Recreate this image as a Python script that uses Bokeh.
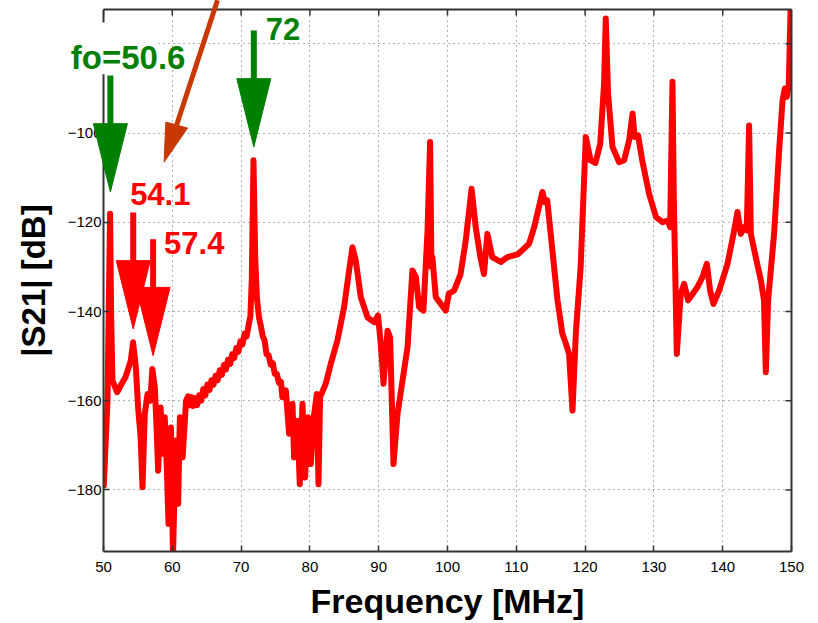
import math
from bokeh.plotting import figure
from bokeh.models import Range1d, FixedTicker
from bokeh.core.properties import value
from bokeh.embed import file_html
from bokeh.resources import INLINE

# ---------------- data ----------------
freq = [50.05, 50.33, 50.58, 50.8, 50.96, 51.1, 51.3, 52.0, 52.5, 53.2, 53.97, 54.3, 54.7,
        55.03, 55.4, 55.67, 56.0, 56.4, 56.8, 57.1, 57.46, 57.75, 57.94, 58.3, 58.6, 58.9,
        59.2, 59.45, 59.8, 60.1, 60.5, 60.85, 61.1, 61.5, 62.0, 62.3, 62.5, 62.8, 63.0,
        63.3, 63.6, 63.9, 64.2, 64.5, 64.8, 65.1, 65.4, 65.7, 66.0, 66.3, 66.6, 66.9, 67.2,
        67.5, 67.8, 68.1, 68.4, 68.7, 69.0, 69.3, 69.6, 69.9, 70.2, 70.5, 70.8, 71.1,
        71.35, 71.55, 71.8, 72.05, 72.3, 72.6, 72.9, 73.15, 73.4, 73.7, 74.0, 74.3, 74.6,
        74.9, 75.2, 75.5, 75.8, 76.0, 76.5, 76.98, 77.47, 77.7, 78.2, 78.53,
        78.92, 79.3, 79.74, 80.13, 80.5, 81.0, 81.25, 81.48, 82.3, 83.04, 84.0, 84.97, 85.7,
        86.19, 86.67, 87.4, 88.37, 89.33, 89.9, 90.3, 90.7, 91.28, 91.66, 92.15, 92.73,
        93.46, 94.19, 94.9, 95.4, 95.87, 96.5, 97.1, 97.47, 97.67, 97.8, 98.3, 99.03, 99.75,
        100.2, 100.96, 101.9, 102.65, 103.5, 104.1, 104.8, 105.3, 105.8, 106.5, 107.75,
        108.7, 110.2, 111.86, 112.6, 113.8, 114.14, 114.5, 115.0, 115.99, 116.7, 117.2,
        117.67, 118.17, 118.65, 119.35, 120.1, 120.8, 121.5, 122.2, 122.76, 123.0, 123.34,
        123.98, 124.94, 125.67, 126.4, 126.9, 127.2, 127.7, 128.3, 129.3, 130.3, 131.25,
        132.0, 132.36, 132.7, 132.9, 133.33, 133.9, 134.4, 134.97, 136.34, 137.06, 137.7,
        138.17, 138.66, 139.48, 140.7, 141.57, 142.15, 142.63, 143.1, 143.5, 143.84, 144.09,
        144.8, 145.55, 146.0, 146.27, 146.6, 147.47, 148.2, 148.7, 149.03, 149.3, 149.6,
        149.9]
s21 = [-179.0, -168.9, -160.0, -135.0, -118.1, -140.0, -155.5, -158.1, -156.6, -154.7,
       -151.0, -146.9, -152.5, -161.5, -168.2, -179.4, -163.0, -158.5, -160.0, -152.9,
       -157.0, -167.4, -175.7, -161.5, -171.9, -163.7, -174.9, -187.6, -166.0, -195.0,
       -168.9, -183.1, -163.7, -172.7, -160.0, -159.0, -161.0, -159.2, -161.2,
       -159.4, -161.0, -158.8, -160.0, -157.4, -158.8, -156.4, -157.6, -155.4, -156.4,
       -154.4, -155.4, -153.2, -154.2, -152.0, -153.0, -150.8, -151.8, -149.6, -150.4,
       -148.2, -149.0, -146.7, -147.4, -145.0, -145.6, -143.0, -141.0, -133.0, -106.1,
       -128.0, -137.0, -141.3, -143.5, -145.6, -146.4, -149.6, -149.8, -151.9, -151.6,
       -154.0, -154.0, -156.0, -155.8, -159.2, -157.7, -167.4, -160.7, -172.7, -164.5,
       -178.7, -160.7, -177.2, -163.7, -174.2, -164.5, -158.5, -178.7, -159.2, -156.2,
       -151.7, -146.5, -139.0, -130.8, -125.6, -128.6, -136.8, -141.3, -142.4, -140.9,
       -147.2, -156.2, -144.3, -145.8, -174.2, -163.0, -155.5, -148.0, -130.8, -132.3,
       -139.0, -139.8, -121.8, -102.0, -130.0, -127.8, -136.8, -138.3, -139.8, -136.0,
       -135.3, -131.6, -124.1, -112.5, -121.1, -128.0, -131.6, -122.6, -127.8, -128.9,
       -127.8, -127.2, -124.8, -121.1, -113.2, -115.5, -115.1, -122.6, -137.5, -145.0,
       -147.2, -149.5, -162.2, -145.0, -130.1, -100.9, -106.1, -106.7, -102.4, -88.9,
       -74.3, -91.2, -103.1, -106.5, -106.1, -101.6, -95.6, -100.9, -100.5, -106.1,
       -113.6, -118.8, -120.0, -119.6, -121.1, -88.5, -115.1, -149.5, -136.0, -133.8,
       -137.5, -134.5, -132.3, -129.3, -135.3, -138.3, -135.3, -129.3, -122.6, -117.7,
       -122.6, -121.1, -121.8, -98.3, -122.6, -127.8, -133.0, -137.5, -153.6, -137.5,
       -122.6, -103.9, -92.7, -90.0, -91.9, -89.3, -70.0]

x_ticks = [50, 60, 70, 80, 90, 100, 110, 120, 130, 140, 150]
y_ticks_left = [-180, -160, -140, -120, -100]
y_ticks_grid = [-180, -160, -140, -120, -100, -80]

# resonance markers (labels and where the arrows point)
fo_label = ["fo=50.6"]
fo_freq = [51.0]
fo_tip = [-113.2]
fo_text_x = [45.25]
fo_text_y = [-83.0]

green_labels = ["72"]
green_freq = [71.85]
green_tip = [-103.1]
green_text_x = [73.6]
green_text_y = [-76.7]

red_labels = ["54.1", "57.4"]
red_freq = [54.32, 57.21]
red_tip = [-143.9, -149.9]
red_text_x = [53.87, 58.81]
red_text_y = [-113.6, -124.6]

# ---------------- styles ----------------
FONT = "Liberation Sans"
RED = "#FF0000"
GREEN = "#008000"
BROWN = "#C83800"
FRAME = "#333333"
HEAD_LEN = 15.3     # dB
HEAD_HALF = 2.47    # MHz
SHAFT_LEN = 10.8    # dB
X0, X1 = 50, 150
Y0, Y1 = -193.8, -72.3

p = figure(width=818, height=623,
           x_range=Range1d(X0, X1), y_range=Range1d(Y0, Y1),
           output_backend="svg", toolbar_location=None,
           min_border_left=103, min_border_right=27, min_border_top=9, min_border_bottom=72,
           x_axis_label="Frequency [MHz]", y_axis_label="|S21| [dB]")
p.background_fill_color = "white"
p.border_fill_color = "white"
p.outline_line_color = None

for ax in (p.xaxis[0], p.yaxis[0]):
    ax.axis_line_color = FRAME
    ax.axis_line_width = 2
    ax.major_tick_in = 6
    ax.major_tick_out = 0
    ax.major_tick_line_color = FRAME
    ax.major_tick_line_width = 1.5
    ax.minor_tick_in = 0
    ax.minor_tick_out = 0
    ax.major_label_text_font = FONT
    ax.major_label_text_font_size = "15px"
    ax.major_label_text_color = "black"
    ax.axis_label_text_font = FONT
    ax.axis_label_text_font_size = "33px"
    ax.axis_label_text_font_style = "bold"
    ax.axis_label_text_color = "black"
p.xaxis[0].axis_label_text_font_size = "34px"

p.xaxis[0].ticker = FixedTicker(ticks=x_ticks)
p.yaxis[0].ticker = FixedTicker(ticks=y_ticks_left)
p.xaxis[0].major_label_standoff = 10
p.xaxis[0].axis_label_standoff = 7
p.yaxis[0].major_label_standoff = 2
p.yaxis[0].axis_label_standoff = 13

p.xgrid[0].ticker = FixedTicker(ticks=x_ticks)
p.ygrid[0].ticker = FixedTicker(ticks=y_ticks_grid)
for g in (p.xgrid[0], p.ygrid[0]):
    g.grid_line_color = "#666666"
    g.grid_line_dash = "1 4"
    g.grid_line_width = 1

# ---------------- curve ----------------
p.line(freq, s21, line_color=RED, line_width=6, line_join="round", line_cap="round")

# inward ticks on the top and right frame edges (outer half is clipped by the frame)
p.scatter(x_ticks, [Y1] * len(x_ticks), marker="dash", angle=math.pi / 2, size=12,
          line_color=FRAME, line_width=1.5)
p.scatter([X1] * len(y_ticks_grid), y_ticks_grid, marker="dash", angle=0, size=12,
          line_color=FRAME, line_width=1.5)

# top and right frame edges (guide level, like the axis lines)
p.segment(x0=[X0, X1], y0=[Y1, Y0], x1=[X1, X1], y1=[Y1, Y1],
          line_color=FRAME, line_width=2, level="guide")

# white box behind the "fo=50.6" label (hides frame line / -80 label there)
p.quad(left=[43.8], right=[57.9], bottom=[-86.8], top=[-75.2],
       fill_color="white", line_color=None, level="overlay")

# ---------------- marker arrows (overlay level: not clipped to the frame) ----------------
def markers(xs, tips, color):
    heads = [t + HEAD_LEN for t in tips]
    p.segment(x0=xs, y0=[h + SHAFT_LEN for h in heads], x1=xs, y1=[h - 1 for h in heads],
              line_color=color, line_width=6, level="overlay")
    p.patches(xs=[[x - HEAD_HALF, x + HEAD_HALF, x] for x in xs],
              ys=[[h, h, t] for h, t in zip(heads, tips)],
              fill_color=color, line_color=color, line_width=1, level="overlay")

def labels(xs, ys, texts, color, size="31px"):
    p.text(x=xs, y=ys, text=texts, text_color=color, text_font=value(FONT),
           text_font_style="bold", text_font_size=size,
           text_align="left", text_baseline="middle", level="overlay")

markers(fo_freq, fo_tip, GREEN)
labels(fo_text_x, fo_text_y, fo_label, GREEN, "33px")
markers(green_freq, green_tip, GREEN)
labels(green_text_x, green_text_y, green_labels, GREEN)
markers(red_freq, red_tip, RED)
labels(red_text_x, red_text_y, red_labels, RED)

# brown pointer arrow coming from above the plot
p.segment(x0=[66.57], y0=[-70.2], x1=[60.63], y1=[-98.2],
          line_color=BROWN, line_width=5, level="overlay")
p.patches(xs=[[59.06, 62.21, 58.81]], ys=[[-97.53, -98.88, -106.5]],
          fill_color=BROWN, line_color=BROWN, line_width=1, level="overlay")

open("out.html", "w").write(file_html(p, INLINE))
